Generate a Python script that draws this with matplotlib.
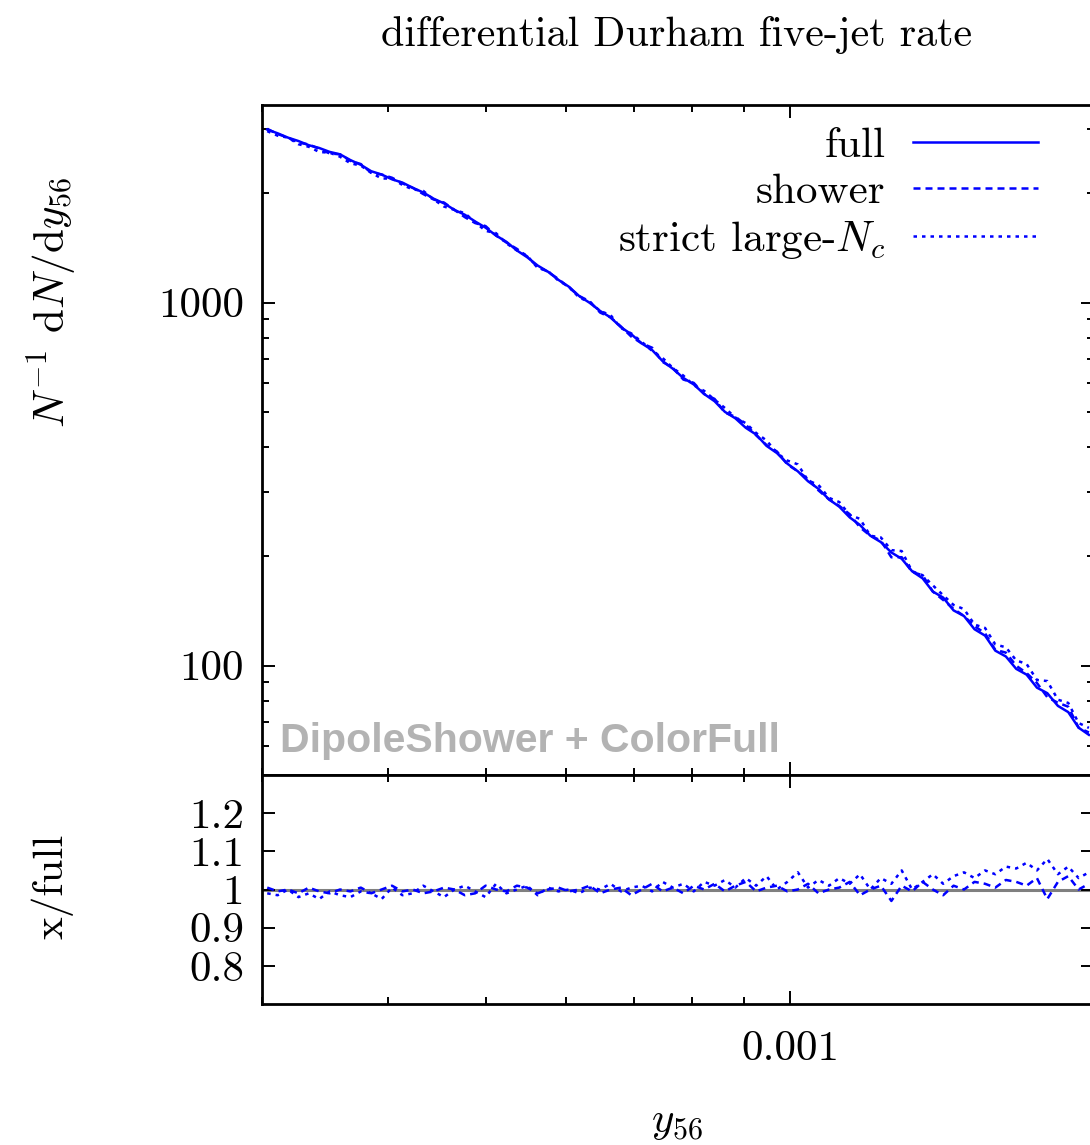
import numpy as np
import matplotlib
matplotlib.use("Agg")
import matplotlib.pyplot as plt
from matplotlib.ticker import FixedLocator, LogLocator, NullFormatter, NullLocator

# ── Settings ──────────────────────────────────────────────────────────────────
plt.rcParams["font.family"] = "cmr10"
plt.rcParams["mathtext.fontset"] = "cm"
plt.rcParams["axes.unicode_minus"] = False
plt.rcParams["axes.formatter.use_mathtext"] = True

BLUE = "#0000ff"
FS = 31

# ── Data ──────────────────────────────────────────────────────────────────────
# bin centres in units of 1e-4
y56 = np.array([
    3.036, 3.109, 3.183, 3.260, 3.338, 3.418, 3.500, 3.584, 3.670, 3.758,
    3.848, 3.941, 4.035, 4.132, 4.231, 4.333, 4.437, 4.543, 4.652, 4.764,
    4.878, 4.995, 5.115, 5.238, 5.364, 5.492, 5.624, 5.759, 5.897, 6.039,
    6.184, 6.334, 6.486, 6.642, 6.801, 6.964, 7.131, 7.302, 7.478, 7.657,
    7.841, 8.029, 8.222, 8.419, 8.621, 8.828, 9.040, 9.257, 9.479, 9.707,
    9.940, 10.18, 10.42, 10.67, 10.93, 11.19, 11.46, 11.73, 12.01, 12.30,
    12.60, 12.90, 13.21, 13.53, 13.85, 14.18, 14.52, 14.87, 15.23, 15.60,
    15.97, 16.36, 16.75, 17.15, 17.56, 17.98, 18.42, 18.86, 19.31, 19.77,
]) * 1e-4

full = np.array([
    2995, 2925, 2846, 2785, 2712, 2665, 2600, 2560, 2468, 2395,
    2300, 2252, 2185, 2140, 2070, 2010, 1932, 1876, 1800, 1745,
    1672, 1608, 1530, 1470, 1392, 1333, 1265, 1216, 1155, 1106,
    1042, 998, 948, 910, 855, 818, 772, 740, 690, 657,
    620, 595, 560, 535, 500, 480, 452, 433, 403, 385,
    360, 343, 322, 307, 287, 274, 256, 244, 228, 219,
    205, 197, 182, 174, 160, 154, 142, 137, 126, 121,
    110, 106, 98.0, 94.5, 87.0, 84.0, 77.5, 74.5, 67.5, 64.5,
])

shower_ratio = np.array([
    1.005, 0.995, 1.000, 0.990, 1.005, 0.995, 0.990, 1.000, 0.995, 1.005,
    0.990, 1.000, 1.010, 0.995, 1.000, 0.990, 0.995, 1.005, 1.000, 0.985,
    0.990, 1.010, 1.000, 0.995, 1.010, 1.005, 0.990, 1.000, 1.005, 0.995,
    1.000, 1.010, 0.990, 1.000, 1.005, 0.985, 1.000, 1.015, 0.995, 1.005,
    0.990, 1.010, 1.000, 1.015, 0.995, 1.010, 1.020, 0.995, 1.005, 1.010,
    0.995, 1.000, 1.015, 0.990, 1.000, 1.005, 1.020, 0.985, 1.000, 1.010,
    0.970, 1.010, 0.995, 1.020, 1.000, 0.985, 1.010, 1.000, 1.020, 1.015,
    1.005, 1.025, 1.020, 1.010, 1.030, 0.975, 1.020, 1.035, 1.000, 1.015,
])

strict_ratio = np.array([
    0.990, 0.985, 1.000, 0.980, 0.990, 0.975, 0.995, 0.985, 0.980, 0.995,
    0.990, 0.975, 1.005, 0.985, 0.990, 1.010, 0.995, 0.980, 1.000, 1.010,
    0.995, 0.980, 1.015, 0.990, 1.000, 1.010, 0.985, 1.005, 0.995, 1.000,
    0.990, 1.005, 1.000, 1.015, 0.995, 1.005, 1.010, 0.995, 1.020, 1.005,
    1.015, 0.995, 1.020, 1.010, 1.025, 1.005, 1.030, 1.010, 1.035, 1.000,
    1.020, 1.045, 1.005, 1.025, 1.010, 1.030, 1.015, 1.040, 1.000, 1.030,
    1.015, 1.050, 1.000, 1.020, 1.040, 1.015, 1.035, 1.045, 1.030, 1.050,
    1.040, 1.060, 1.055, 1.070, 1.050, 1.080, 1.040, 1.060, 1.030, 1.045,
])

shower = full * shower_ratio
strict = full * strict_ratio

labels = ["full", "shower", r"strict large-$N_c$"]
ratio_ticks = [0.8, 0.9, 1.0, 1.1, 1.2]
ratio_ticklabels = ["0.8", "0.9", "1", "1.1", "1.2"]

# ── Figure ────────────────────────────────────────────────────────────────────
W, H = 1090, 1145
fig = plt.figure(figsize=(W / 100, H / 100), dpi=100)

def px_box(x0, y0, x1, y1):
    return [x0 / W, 1 - y1 / H, (x1 - x0) / W, (y1 - y0) / H]

ax = fig.add_axes(px_box(262, 105, 1094, 775))
axr = fig.add_axes(px_box(262, 775, 1094, 1004), sharex=ax)

lw = 1.8
dashed = (0, (2.8, 2.0))
dotted = (0, (1.4, 2.0))

ax.plot(y56, full, color=BLUE, lw=lw, ls="-", label=labels[0])
ax.plot(y56, shower, color=BLUE, lw=lw, ls=dashed, label=labels[1])
ax.plot(y56, strict, color=BLUE, lw=lw, ls=dotted, label=labels[2])

axr.axhline(1.0, color="#808080", lw=2.2, zorder=1)
axr.plot(y56, shower_ratio, color=BLUE, lw=lw, ls=dashed, zorder=2)
axr.plot(y56, strict_ratio, color=BLUE, lw=lw, ls=dotted, zorder=2)

ax.set_xscale("log")
ax.set_yscale("log")
ax.set_xlim(3e-4, 2e-3)
ax.set_ylim(50, 3500)
axr.set_ylim(0.7, 1.3)

for a in (ax, axr):
    for s in a.spines.values():
        s.set_linewidth(2.0)
    a.tick_params(which="both", direction="in", top=True, right=True,
                  width=1.4, labelsize=FS)
    a.tick_params(which="major", length=9.5)
    a.tick_params(which="minor", length=5)

ax.xaxis.set_major_locator(FixedLocator([1e-3]))
ax.xaxis.set_minor_locator(LogLocator(base=10, subs=np.arange(2, 10)))
ax.xaxis.set_minor_formatter(NullFormatter())
ax.tick_params(axis="x", which="both", labelbottom=False)
axr.set_xticks([1e-3], ["0.001"])
axr.xaxis.set_minor_formatter(NullFormatter())
axr.tick_params(axis="x", which="major", pad=19)

ax.set_yticks([100, 1000], ["100", "1000"])
ax.yaxis.set_minor_locator(LogLocator(base=10, subs=np.arange(2, 10)))
ax.yaxis.set_minor_formatter(NullFormatter())
ax.tick_params(axis="y", pad=13)

axr.set_yticks(ratio_ticks, ratio_ticklabels)
axr.yaxis.set_minor_locator(NullLocator())
axr.tick_params(axis="y", pad=13)

ax.legend(frameon=False, markerfirst=False, loc="upper right",
          bbox_to_anchor=(0.9327, 0.968), borderaxespad=0, borderpad=0,
          handlelength=2.9, handletextpad=0.65, labelspacing=0.19, fontsize=FS)

ax.text(0.0216, 0.034, "DipoleShower + ColorFull", transform=ax.transAxes,
        family="Liberation Sans", weight="bold", color="#b3b3b3",
        fontsize=29.5, va="baseline", ha="left")

fig.text(677 / W, 1 - 46 / H, "differential Durham five-jet rate",
         ha="center", va="baseline", fontsize=30.3)
fig.text(52 / W, 1 - 302 / H, r"$N^{-1}$ d$N$/d$y_{56}$", rotation=90,
         ha="center", va="center", fontsize=FS)
fig.text(52 / W, 1 - 886 / H, "x/full", rotation=90,
         ha="center", va="center", fontsize=FS)
fig.text(677 / W, 1 - 1123 / H, r"$y_{56}$", ha="center", va="center",
         fontsize=FS)

fig.savefig("out.png", dpi=100)
